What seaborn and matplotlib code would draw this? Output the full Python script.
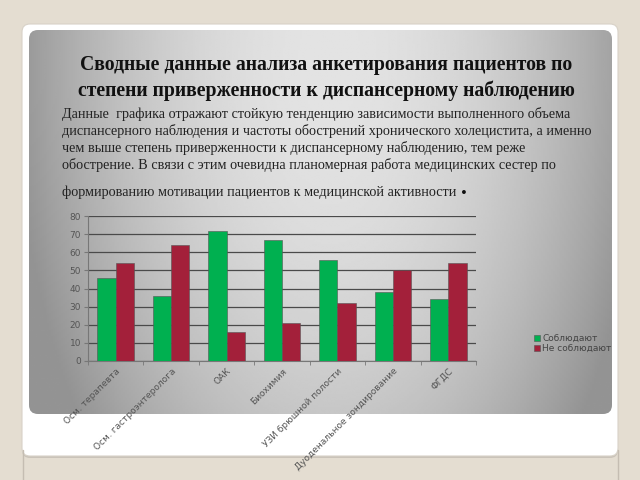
import matplotlib
matplotlib.use('Agg')
import matplotlib.pyplot as plt
import numpy as np
import pandas as pd
import seaborn as sns
from matplotlib.patches import FancyBboxPatch

# --- data ---
categories = ['Осм. терапевта', 'Осм. гастроэнтеролога', 'ОАК', 'Биохимия',
              'УЗИ брюшной полости', 'Дуоденальное зондирование', 'ФГДС']
comply = [46, 36, 72, 67, 56, 38, 34]
not_comply = [54, 64, 16, 21, 32, 50, 54]
series_names = ['Соблюдают', 'Не соблюдают']
y_ticks = [0, 10, 20, 30, 40, 50, 60, 70, 80]

title_lines = ['Сводные данные анализа анкетирования пациентов по',
               'степени приверженности к диспансерному наблюдению']
text_lines = ['Данные  графика отражают стойкую тенденцию зависимости выполненного объема',
              'диспансерного наблюдения и частоты обострений хронического холецистита, а именно',
              'чем выше степень приверженности к диспансерному наблюдению, тем реже',
              'обострение. В связи с этим очевидна планомерная работа медицинских сестер по',
              'формированию мотивации пациентов к медицинской активности']

df = pd.DataFrame({
    'cat': categories * 2,
    'val': comply + not_comply,
    'grp': [series_names[0]] * len(categories) + [series_names[1]] * len(categories),
})

sns.set_style('white')
plt.rcParams['font.family'] = ['DejaVu Sans']

fig = plt.figure(figsize=(6.4, 4.8), dpi=100)
fig.patch.set_facecolor('#e4ddd1')

# slide background in pixel coordinates
bg = fig.add_axes([0, 0, 1, 1], zorder=-1)
bg.axis('off')

bg.plot([22.5, 22.5], [450, 480], color='#c5bdb2', lw=1)
bg.plot([617.5, 617.5], [450, 480], color='#c5bdb2', lw=1)
shadow = FancyBboxPatch((22, 26), 596, 432, boxstyle='round,pad=0,rounding_size=8',
                        fc='#b9b3aa', ec='none', alpha=0.6, zorder=1)
bg.add_patch(shadow)
card = FancyBboxPatch((22, 24), 596, 432, boxstyle='round,pad=0,rounding_size=8',
                      fc='white', ec='#d8d2c8', lw=0.8, zorder=1)
bg.add_patch(card)

# gray radial gradient panel
x0, x1, y0, y1 = 29, 612, 30, 414
xx, yy = np.meshgrid(np.linspace(x0, x1, 300), np.linspace(y0, y1, 200))
d = np.sqrt(((xx - 330) / 300) ** 2 + ((yy - 60) / 560) ** 2)
shade = np.clip(0.89 - 0.28 * d ** 2, 0.58, 0.9)
img = bg.imshow(shade, cmap='gray', vmin=0, vmax=1, extent=(x0, x1, y1, y0),
                aspect='auto', interpolation='bilinear', zorder=2)
panel = FancyBboxPatch((x0, y0), x1 - x0, y1 - y0, boxstyle='round,pad=0,rounding_size=9',
                       fc='none', ec='none', transform=bg.transData)
bg.add_patch(panel)
img.set_clip_path(panel)
bg.set_xlim(0, 640)
bg.set_ylim(480, 0)

serif = ['Liberation Serif', 'DejaVu Serif']
for i, line in enumerate(title_lines):
    bg.text(326, 65 + i * 26, line, ha='center', va='center', fontsize=14.2,
            fontweight='bold', family=serif, color='#111111', zorder=3)
for i, line in enumerate(text_lines):
    yy_txt = 114 + i * 17 if i < 4 else 192
    bg.text(62, yy_txt, line, ha='left', va='center', fontsize=10.3,
            family=serif, color='#222222', zorder=3)
bg.text(461, 189, '.', ha='left', va='center', fontsize=17, fontweight='bold',
        family=serif, color='#111111', zorder=3)

# chart
ax = fig.add_axes([88 / 640, 1 - 361 / 480, 388 / 640, 145 / 480])
ax.set_facecolor('none')
sns.barplot(data=df, x='cat', y='val', hue='grp', order=categories,
            palette=['#00b050', '#a3203a'], saturation=1, width=0.66, gap=0,
            edgecolor='#555555', linewidth=0.4, ax=ax, zorder=3)
ax.set_ylim(0, 80)
ax.set_xlim(-0.5, len(categories) - 0.5)
ax.set_yticks(y_ticks)
ax.yaxis.grid(True, color='#4a4a4a', lw=0.9)
ax.set_axisbelow(True)
for s in ['top', 'right']:
    ax.spines[s].set_visible(False)
for s in ['left', 'bottom']:
    ax.spines[s].set_color('#777777')
    ax.spines[s].set_linewidth(0.8)
ax.set_xlabel('')
ax.set_ylabel('')
ax.tick_params(axis='y', labelsize=6.5, labelcolor='#555555', length=3,
               color='#777777', pad=2, left=True)
ax.set_xticks(range(len(categories)))
ax.set_xticklabels(categories, rotation=45, ha='right', rotation_mode='anchor')
ax.tick_params(axis='x', labelsize=6.5, labelcolor='#555555', length=0, pad=4)
ax.set_xticks(np.arange(-0.5, len(categories)), minor=True)
ax.tick_params(axis='x', which='minor', length=3, color='#777777', bottom=True)

handles, labels = ax.get_legend_handles_labels()
ax.legend(handles, labels, loc='upper left', bbox_to_anchor=(534 / 640, 1 - 334 / 480),
          bbox_transform=fig.transFigure, frameon=False, fontsize=6.5,
          borderpad=0, borderaxespad=0,
          handlelength=0.7, handleheight=0.7, handletextpad=0.2,
          labelspacing=0.15, labelcolor='#444444')

fig.savefig('out.png', dpi=100)
